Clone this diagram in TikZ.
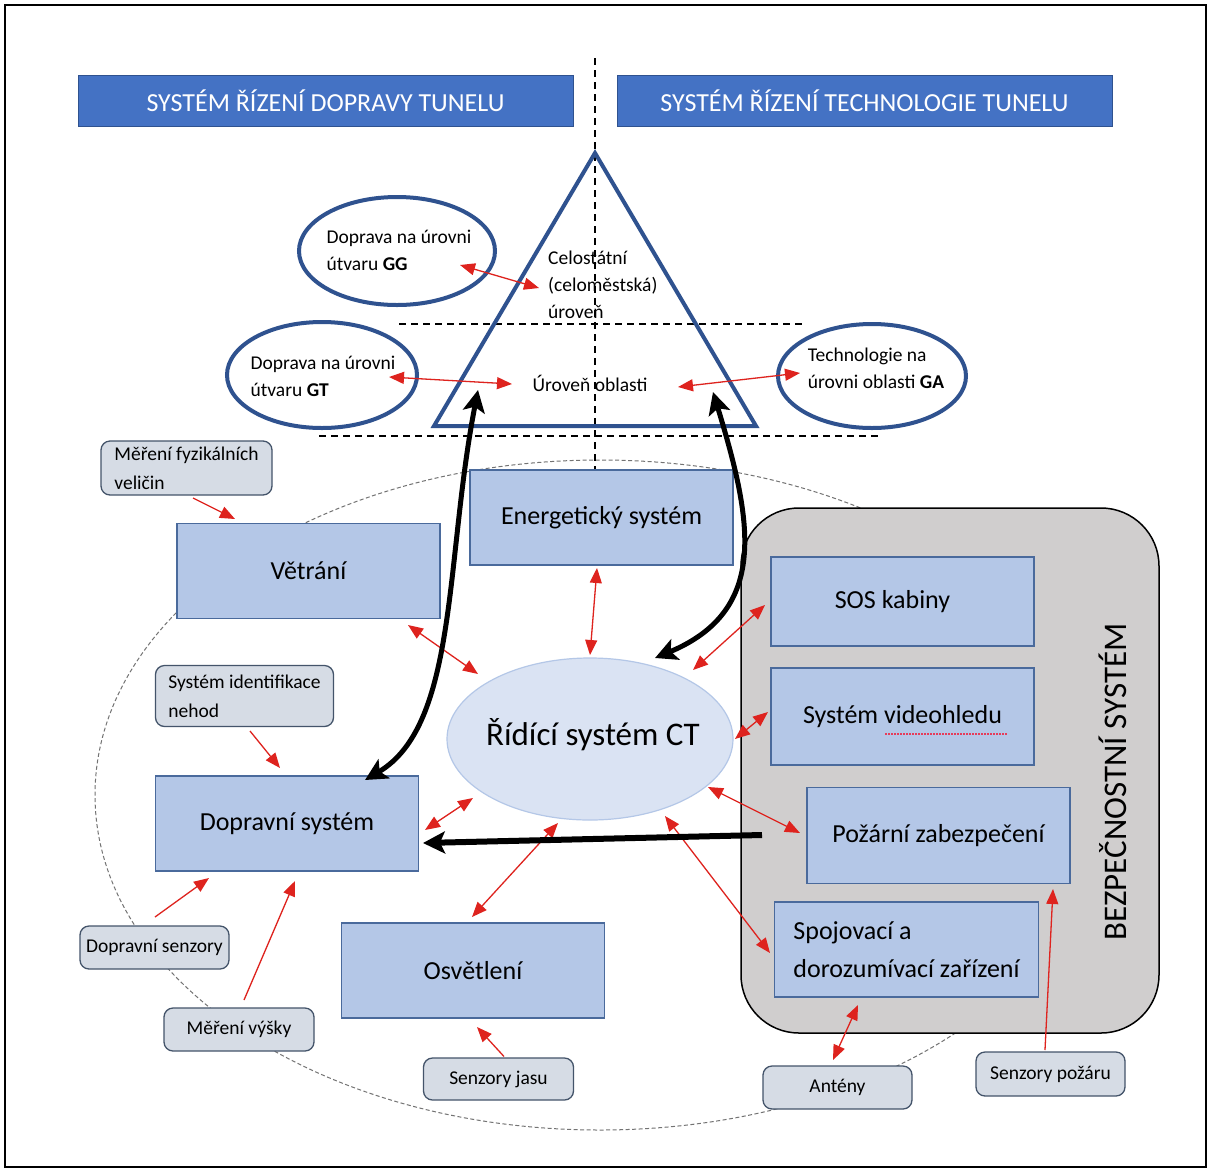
\documentclass[tikz,border=0pt]{standalone}
\usepackage{fontspec}
\setmainfont{Carlito}
\usetikzlibrary{arrows.meta,shapes.geometric}

\newcommand\fs[2]{\fontsize{#1}{#2}\selectfont}

\definecolor{bannerblue}{RGB}{68,114,196}
\definecolor{bannerline}{RGB}{47,82,143}
\definecolor{lvlblue}{RGB}{47,82,143}
\definecolor{boxfill}{RGB}{180,199,231}
\definecolor{boxline}{RGB}{74,106,156}
\definecolor{ctfill}{RGB}{218,227,243}
\definecolor{ctline}{RGB}{180,199,231}
\definecolor{grayfill}{RGB}{208,206,206}
\definecolor{sensfill}{RGB}{214,220,229}
\definecolor{sensline}{RGB}{68,84,106}
\definecolor{arrred}{RGB}{222,35,30}
\definecolor{spellred}{RGB}{230,60,90}

\tikzset{
  banner/.style={rectangle, fill=bannerblue, draw=bannerline, line width=1pt,
    text=white, minimum width=495pt, minimum height=51pt, inner sep=0pt, font=\fs{26}{30}},
  sysbox/.style={rectangle, fill=boxfill, draw=boxline, line width=1.4pt,
    minimum width=263pt, minimum height=95pt, inner sep=0pt, font=\fs{26}{38}},
  sensor/.style={rectangle, rounded corners=9pt, fill=sensfill, draw=sensline,
    line width=1.3pt, inner sep=0pt, font=\fs{19.5}{29}, align=left},
  lvl/.style={ellipse, draw=lvlblue, line width=4pt, fill=white, inner sep=0pt},
  lvltext/.style={inner sep=0pt, font=\fs{19.5}{27}, align=left},
  bigdash/.style={draw=black!55, line width=1pt, dash pattern=on 4pt off 2.5pt},
  divider/.style={draw=black, line width=1.3pt, dash pattern=on 7pt off 5pt},
  redarr/.style={draw=arrred, line width=1.3pt, -{Triangle[length=15pt,width=12pt]}},
  redboth/.style={draw=arrred, line width=1.3pt,
    {Triangle[length=15pt,width=12pt]}-{Triangle[length=15pt,width=12pt]}},
  blackboth/.style={draw=black, line width=5pt,
    {Stealth[length=22pt,width=22pt,inset=5pt]}-{Stealth[length=22pt,width=22pt,inset=5pt]}},
  blackarr/.style={draw=black, line width=6pt, -{Stealth[length=22pt,width=22pt,inset=5pt]}},
}

\begin{document}
\begin{tikzpicture}[x=1pt,y=-1pt]
\fill[white] (0,0) rectangle (1211,1171);
\path[use as bounding box] (0,0) rectangle (1211,1171);
\draw[line width=2pt] (5,5) rectangle (1206,1167);

% tunnel outline and level dividers
\draw[bigdash] (600,795) ellipse [x radius=505, y radius=335];
\draw[divider] (595,58) -- (595,470);
\draw[divider] (399,324) -- (805,324);
\draw[divider] (319,436) -- (878,436);

% headers
\node[banner] (hdrL) at (325.5,100.5) {SYSTÉM ŘÍZENÍ DOPRAVY TUNELU};
\node[banner] (hdrR) at (864.5,100.5) {SYSTÉM ŘÍZENÍ TECHNOLOGIE TUNELU};

% control level pyramid
\coordinate (apex) at (595,153);
\coordinate (tbl) at (434,426);
\coordinate (tbr) at (756,426);
\draw[lvlblue, line width=4pt, line join=miter] (apex) -- (tbl) -- (tbr) -- cycle;
\node[lvltext, anchor=west] (cel) at (548,285) {Celostátní\\(celoměstská)\\úroveň};
\node[lvltext] (uo) at (590,383) {Úroveň oblasti};
\coordinate (lvlL) at (478,390);
\coordinate (lvlR) at (713,392);

% outer levels
\node[lvl, minimum width=196pt, minimum height=108pt] (gg) at (397,251) {};
\node[lvltext] (ggt) at (399,250) {Doprava na úrovni\\útvaru \textbf{GG}};
\node[lvl, minimum width=190pt, minimum height=106pt] (gt) at (322,375) {};
\node[lvltext] (gtt) at (323,376) {Doprava na úrovni\\útvaru \textbf{GT}};
\node[lvl, minimum width=188pt, minimum height=104pt] (ga) at (872,376) {};
\node[lvltext] (gat) at (876,368) {Technologie na\\úrovni oblasti \textbf{GA}};

% safety system group
\node[rectangle, rounded corners=58pt, fill=grayfill, draw=black, line width=1.5pt,
      minimum width=418pt, minimum height=525pt, inner sep=0pt] (bez) at (950,770.5) {};
\node[rotate=90, anchor=base, inner sep=0pt, font=\fs{33}{36}] (bezt) at (1126,782) {BEZPEČNOSTNÍ SYSTÉM};

% subsystems
\node[sysbox] (ene) at (601.5,517.5) {Energetický systém};
\node[sysbox] (vet) at (308.5,571) {Větrání};
\node[sysbox] (dop) at (287,823.5) {Dopravní systém};
\node[sysbox] (osv) at (473,970.5) {Osvětlení};
\node[sysbox, minimum height=89pt] (sos) at (902.5,601.5) {\hspace*{-20pt}SOS kabiny};
\node[sysbox, minimum height=97pt] (vid) at (902.5,716.5) {Systém videohledu};
\node[sysbox, minimum height=96pt] (poz) at (938.5,835.5) {Požární zabezpečení};
\node[sysbox, minimum width=264pt, align=left] (spo) at (906.5,949.5) {Spojovací a\\dorozumívací zařízení};
\draw[spellred, line width=1.5pt, dash pattern=on 1.5pt off 1.5pt] (885,734) -- (1007,734);

% central control system
\node[ellipse, fill=ctfill, draw=ctline, line width=1.2pt, minimum width=286pt,
      minimum height=162pt, inner sep=0pt] (ct) at (590,739) {};
\node[inner sep=0pt, font=\fs{33}{38}] (ctt) at (593,735) {Řídící systém CT};

% sensors
\node[sensor, minimum width=171pt, minimum height=54pt] (mfv) at (186.5,468) {Měření fyzikálních\\veličin};
\node[sensor, minimum width=178pt, minimum height=61pt] (sin) at (244.5,696) {Systém identifikace\\nehod};
\node[sensor, minimum width=149pt, minimum height=43pt] (dse) at (154.5,947.5) {Dopravní senzory};
\node[sensor, minimum width=150pt, minimum height=43pt] (mvy) at (239,1029.5) {Měření výšky};
\node[sensor, minimum width=150pt, minimum height=42pt] (sja) at (498.5,1079) {Senzory jasu};
\node[sensor, minimum width=149pt, minimum height=43pt] (ant) at (837.5,1087.5) {Antény};
\node[sensor, minimum width=149pt, minimum height=44pt] (spz) at (1050.5,1074) {Senzory požáru};

% sensor inputs
\draw[redarr] ([shift={(6.5,30)}]mfv.center) -- ([shift={(-73.5,-52)}]vet.center);
\draw[redarr] ([shift={(5.5,35)}]sin.center) -- ([shift={(-7,-55.5)}]dop.center);
\draw[redarr] ([shift={(0.5,-30.5)}]dse.center) -- ([shift={(-78,54.5)}]dop.center);
\draw[redarr] ([shift={(5,-29.5)}]mvy.center) -- ([shift={(8,57.5)}]dop.center);
\draw[redarr] ([shift={(5.5,-22.5)}]sja.center) -- ([shift={(4,56.5)}]osv.center);
\draw[redboth] ([shift={(-4.5,-27.5)}]ant.center) -- ([shift={(-48.5,55.5)}]spo.center);
\draw[redarr] ([shift={(-5.5,-24)}]spz.center) -- ([shift={(114.5,53.5)}]poz.center);

% links to the central control system
\draw[redboth] ([shift={(99.5,54)}]vet.center) -- ([shift={(-112,-65)}]ct.center);
\draw[redboth] ([shift={(-4.5,50.5)}]ene.center) -- ([shift={(0,-84)}]ct.center);
\draw[redboth] ([shift={(-137.5,3.5)}]sos.center) -- ([shift={(103,-69)}]ct.center);
\draw[redboth] ([shift={(-134.5,-4.5)}]vid.center) -- ([shift={(145,0)}]ct.center);
\draw[redboth] ([shift={(-138.5,-2.5)}]poz.center) -- ([shift={(118,48)}]ct.center);
\draw[redboth] ([shift={(-136.5,3.5)}]spo.center) -- ([shift={(75,77)}]ct.center);
\draw[redboth] ([shift={(138,6.5)}]dop.center) -- ([shift={(-117,59)}]ct.center);
\draw[redboth] ([shift={(-1,-53.5)}]osv.center) -- ([shift={(-32,84)}]ct.center);

% links between levels
\draw[redboth] ([shift={(63,14)}]gg.center) -- ([shift={(-9,3)}]cel.west);
\draw[redboth] ([shift={(67,2)}]gt.center) -- ([shift={(-78,1)}]uo.center);
\draw[redboth] ([shift={(88,4)}]uo.center) -- ([shift={(-72,-3)}]ga.center);

% main information flows
\draw[blackboth] (lvlL) .. controls (445,560) and (458,725) .. ([shift={(78,-43.5)}]dop.center);
\draw[blackboth] (lvlR) .. controls (752,520) and (770,610) .. ([shift={(65,-81)}]ct.center);
\draw[blackarr] ([shift={(-188,64.5)}]bez.center) -- ([shift={(136,19.5)}]dop.center);
\end{tikzpicture}
\end{document}
